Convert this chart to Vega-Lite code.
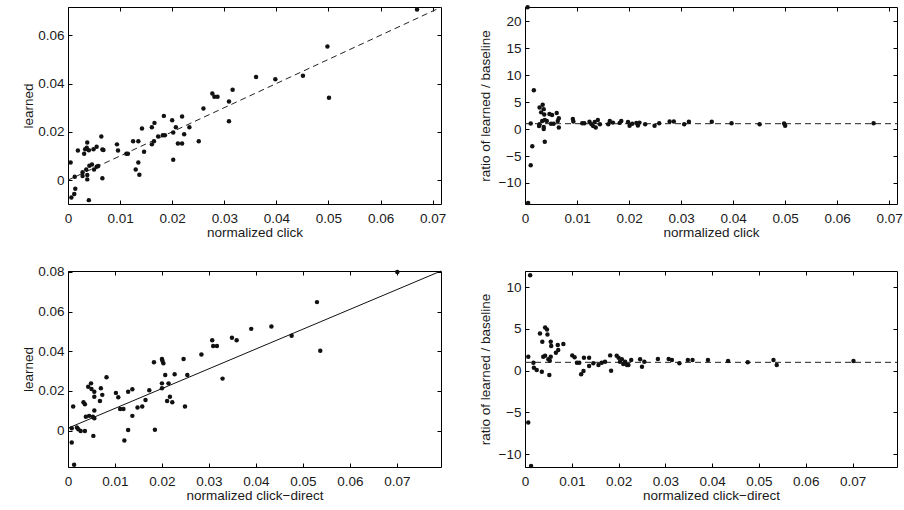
{
  "$schema": "https://vega.github.io/schema/vega-lite/v6.json",
  "padding": {"left": 20, "top": 4, "right": 0, "bottom": 0},
  "background": "white",
  "config": {
    "view": {"stroke": "#000", "strokeWidth": 1},
    "axis": {"domain": false, "grid": false, "tickSize": -4, "tickColor": "#000", "tickWidth": 1,
      "labelFont": "Liberation Sans", "labelFontSize": 13.5, "labelColor": "#1a1a1a",
      "titleFont": "Liberation Sans", "titleFontSize": 13.5, "titleFontWeight": "normal", "titleColor": "#1a1a1a",
      "labelFlush": false, "labelOverlap": false},
    "axisLeft": {"labelPadding": 8, "minExtent": 29, "maxExtent": 29, "titlePadding": 4},
    "axisBottom": {"labelPadding": 11, "minExtent": 19, "maxExtent": 19, "titlePadding": 2},
    "axisTop": {"labels": false, "minExtent": 0, "maxExtent": 0},
    "axisRight": {"labels": false, "minExtent": 0, "maxExtent": 0}
  },
  "datasets": {
    "p1": [
      {"x":0.0005,"y":0.0073},{"x":0.00065,"y":-0.0072},{"x":0.0012,"y":-0.0058},{"x":0.0014,"y":-0.0036},{"x":0.0013,"y":0.0014},{"x":0.0019,"y":0.0123},{"x":0.0028,"y":0.0033},{"x":0.0028,"y":0.0017},{"x":0.0031,"y":0.0109},{"x":0.0033,"y":0.0128},{"x":0.0037,"y":0.0156},{"x":0.0036,"y":0.0134},{"x":0.0035,"y":0.0044},{"x":0.0037,"y":0.0021},{"x":0.0037,"y":0.0003},{"x":0.004,"y":0.0124},{"x":0.004,"y":-0.0083},{"x":0.0041,"y":0.0059},{"x":0.0046,"y":0.0065},{"x":0.0049,"y":0.0128},{"x":0.005,"y":0.0044},{"x":0.0055,"y":0.0138},{"x":0.0055,"y":0.0055},{"x":0.0058,"y":0.0058},{"x":0.0064,"y":0.0181},{"x":0.0066,"y":0.0127},{"x":0.0068,"y":0.0125},{"x":0.0066,"y":0.0008},{"x":0.0094,"y":0.0148},{"x":0.0096,"y":0.0123},{"x":0.0112,"y":0.0109},{"x":0.0115,"y":0.0109},{"x":0.0125,"y":0.0161},{"x":0.0135,"y":0.0161},{"x":0.013,"y":0.0044},{"x":0.0135,"y":0.0073},{"x":0.0137,"y":0.0022},{"x":0.0142,"y":0.0214},{"x":0.0146,"y":0.0117},{"x":0.0161,"y":0.0219},{"x":0.0166,"y":0.0237},{"x":0.0161,"y":0.0148},{"x":0.0165,"y":0.0161},{"x":0.0173,"y":0.0181},{"x":0.0182,"y":0.0186},{"x":0.0186,"y":0.0186},{"x":0.0184,"y":0.0266},{"x":0.02,"y":0.0248},{"x":0.0202,"y":0.0197},{"x":0.0202,"y":0.0084},{"x":0.0207,"y":0.0219},{"x":0.0211,"y":0.0152},{"x":0.0219,"y":0.0152},{"x":0.0219,"y":0.0263},{"x":0.0223,"y":0.019},{"x":0.0233,"y":0.0219},{"x":0.0251,"y":0.0161},{"x":0.026,"y":0.0297},{"x":0.0277,"y":0.0359},{"x":0.0281,"y":0.0345},{"x":0.0287,"y":0.0345},{"x":0.0309,"y":0.0326},{"x":0.0309,"y":0.0244},{"x":0.0316,"y":0.0374},{"x":0.0361,"y":0.0427},{"x":0.0398,"y":0.0418},{"x":0.0451,"y":0.0432},{"x":0.0498,"y":0.0553},{"x":0.0501,"y":0.0341},{"x":0.067,"y":0.0707}
    ],
    "l1": [{"x":0,"y":0},{"x":0.0716,"y":0.0716}],
    "p2": [
      {"x":0.0005,"y":22.6},{"x":0.0011,"y":1.04},{"x":0.0017,"y":7.2},{"x":0.0014,"y":-3.2},{"x":0.0011,"y":-6.7},{"x":0.0006,"y":-13.7},{"x":0.0028,"y":4.0},{"x":0.0031,"y":3.1},{"x":0.0034,"y":4.5},{"x":0.0036,"y":3.7},{"x":0.0037,"y":2.7},{"x":0.0028,"y":0.9},{"x":0.0027,"y":0.55},{"x":0.0033,"y":1.5},{"x":0.0036,"y":0.4},{"x":0.0036,"y":0.0},{"x":0.0038,"y":1.7},{"x":0.0042,"y":1.5},{"x":0.0038,"y":-2.35},{"x":0.0047,"y":2.8},{"x":0.005,"y":1.0},{"x":0.0052,"y":2.6},{"x":0.0055,"y":1.0},{"x":0.0061,"y":3.0},{"x":0.0063,"y":1.5},{"x":0.0065,"y":2.0},{"x":0.0065,"y":0.3},{"x":0.0092,"y":1.85},{"x":0.0093,"y":1.4},{"x":0.011,"y":1.1},{"x":0.0114,"y":1.1},{"x":0.0124,"y":1.35},{"x":0.0128,"y":0.9},{"x":0.0131,"y":0.55},{"x":0.0134,"y":1.3},{"x":0.0136,"y":0.3},{"x":0.014,"y":1.7},{"x":0.0144,"y":0.9},{"x":0.016,"y":0.9},{"x":0.0163,"y":1.5},{"x":0.0169,"y":1.2},{"x":0.0182,"y":1.15},{"x":0.0185,"y":1.5},{"x":0.0198,"y":1.3},{"x":0.0201,"y":0.6},{"x":0.0206,"y":1.0},{"x":0.0214,"y":1.15},{"x":0.0217,"y":0.65},{"x":0.022,"y":1.2},{"x":0.0231,"y":0.9},{"x":0.0249,"y":0.6},{"x":0.0258,"y":1.1},{"x":0.0278,"y":1.4},{"x":0.0286,"y":1.4},{"x":0.0306,"y":0.9},{"x":0.0315,"y":1.35},{"x":0.0359,"y":1.35},{"x":0.0397,"y":1.1},{"x":0.0451,"y":0.9},{"x":0.0498,"y":1.05},{"x":0.05,"y":0.6},{"x":0.067,"y":1.1}
    ],
    "l2": [{"x":0,"y":1},{"x":0.0715,"y":1}],
    "p3": [
      {"x":0.0008,"y":0.0012},{"x":0.0008,"y":-0.006},{"x":0.0011,"y":0.0121},{"x":0.0013,"y":-0.0173},{"x":0.0019,"y":0.0015},{"x":0.0022,"y":0.0007},{"x":0.0027,"y":-0.0002},{"x":0.0033,"y":0.0143},{"x":0.0036,"y":0.0133},{"x":0.0038,"y":0.007},{"x":0.0036,"y":-0.0002},{"x":0.0043,"y":0.0221},{"x":0.0045,"y":0.0074},{"x":0.0049,"y":0.0238},{"x":0.005,"y":0.021},{"x":0.0053,"y":0.007},{"x":0.0054,"y":-0.0027},{"x":0.0056,"y":0.0196},{"x":0.0056,"y":0.0171},{"x":0.0056,"y":0.0101},{"x":0.0056,"y":0.0062},{"x":0.0068,"y":0.0149},{"x":0.007,"y":0.0213},{"x":0.0073,"y":0.018},{"x":0.0082,"y":0.0269},{"x":0.0102,"y":0.019},{"x":0.0107,"y":0.0168},{"x":0.0111,"y":0.0109},{"x":0.0118,"y":0.0109},{"x":0.012,"y":-0.005},{"x":0.0128,"y":0.0196},{"x":0.0128,"y":0.0003},{"x":0.0137,"y":0.0208},{"x":0.0137,"y":0.0074},{"x":0.0148,"y":0.0116},{"x":0.0158,"y":0.0121},{"x":0.0165,"y":0.0154},{"x":0.0173,"y":0.0203},{"x":0.0183,"y":0.0344},{"x":0.0185,"y":0.0004},{"x":0.02,"y":0.0361},{"x":0.0201,"y":0.0352},{"x":0.0203,"y":0.0339},{"x":0.02,"y":0.0238},{"x":0.02,"y":0.0213},{"x":0.0207,"y":0.028},{"x":0.0214,"y":0.0238},{"x":0.0211,"y":0.0149},{"x":0.0217,"y":0.0171},{"x":0.0222,"y":0.0143},{"x":0.0227,"y":0.0284},{"x":0.0246,"y":0.0361},{"x":0.0249,"y":0.0121},{"x":0.0254,"y":0.028},{"x":0.0284,"y":0.0384},{"x":0.0307,"y":0.0456},{"x":0.0309,"y":0.0426},{"x":0.0317,"y":0.0426},{"x":0.0329,"y":0.0262},{"x":0.0349,"y":0.0468},{"x":0.0359,"y":0.0456},{"x":0.039,"y":0.0513},{"x":0.0433,"y":0.0525},{"x":0.0476,"y":0.0478},{"x":0.053,"y":0.0648},{"x":0.0537,"y":0.0403},{"x":0.0701,"y":0.08}
    ],
    "l3": [{"x":0,"y":0.0012},{"x":0.0794,"y":0.0805}],
    "p4": [
      {"x":0.0011,"y":11.42},{"x":0.0007,"y":1.67},{"x":0.0007,"y":-6.2},{"x":0.0013,"y":-11.4},{"x":0.0018,"y":0.95},{"x":0.0019,"y":0.36},{"x":0.0025,"y":0.08},{"x":0.0032,"y":4.46},{"x":0.0036,"y":-0.12},{"x":0.0037,"y":3.46},{"x":0.0039,"y":1.67},{"x":0.0043,"y":5.18},{"x":0.0043,"y":1.79},{"x":0.0047,"y":4.94},{"x":0.0048,"y":4.34},{"x":0.005,"y":1.36},{"x":0.0052,"y":-0.51},{"x":0.0053,"y":1.19},{"x":0.0055,"y":1.67},{"x":0.0055,"y":3.46},{"x":0.0056,"y":2.95},{"x":0.0066,"y":2.15},{"x":0.007,"y":3.07},{"x":0.0071,"y":2.47},{"x":0.0082,"y":3.19},{"x":0.0101,"y":1.83},{"x":0.0106,"y":1.6},{"x":0.0111,"y":0.95},{"x":0.0116,"y":0.95},{"x":0.012,"y":-0.43},{"x":0.0125,"y":-0.04},{"x":0.0126,"y":1.55},{"x":0.0137,"y":1.55},{"x":0.0137,"y":0.56},{"x":0.0146,"y":0.88},{"x":0.0157,"y":0.68},{"x":0.0164,"y":0.95},{"x":0.0171,"y":1.07},{"x":0.0182,"y":1.83},{"x":0.0184,"y":0.0},{"x":0.0196,"y":1.79},{"x":0.02,"y":1.55},{"x":0.0203,"y":1.07},{"x":0.0207,"y":1.36},{"x":0.021,"y":0.8},{"x":0.0214,"y":1.07},{"x":0.0218,"y":0.68},{"x":0.0221,"y":0.68},{"x":0.0227,"y":1.28},{"x":0.0246,"y":1.36},{"x":0.025,"y":0.48},{"x":0.0255,"y":1.07},{"x":0.0284,"y":1.4},{"x":0.0307,"y":1.4},{"x":0.0314,"y":1.28},{"x":0.033,"y":0.88},{"x":0.0348,"y":1.28},{"x":0.0358,"y":1.28},{"x":0.0391,"y":1.28},{"x":0.0434,"y":1.16},{"x":0.0476,"y":1.0},{"x":0.0531,"y":1.28},{"x":0.0538,"y":0.68},{"x":0.0702,"y":1.16}
    ],
    "l4": [{"x":0,"y":1},{"x":0.0795,"y":1}]
  },
  "columns": 2,
  "spacing": {"row": 25, "column": 30},
  "concat": [
    {
      "width": 373, "height": 197,
      "layer": [
        {"data": {"name": "l1"}, "mark": {"type": "line", "strokeDash": [6, 4], "color": "#222", "strokeWidth": 1},
         "encoding": {
           "x": {"field": "x", "type": "quantitative", "scale": {"domain": [0, 0.0716], "nice": false, "zero": false}, "axis": {"orient": "top", "title": null, "values": [0,0.01,0.02,0.03,0.04,0.05,0.06,0.07]}},
           "y": {"field": "y", "type": "quantitative", "scale": {"domain": [-0.0099, 0.0717], "nice": false, "zero": false}, "axis": {"orient": "right", "title": null, "values": [0,0.02,0.04,0.06]}}
         }},
        {"data": {"name": "p1"}, "mark": {"type": "circle", "size": 20, "color": "#111", "opacity": 1},
         "encoding": {
           "x": {"field": "x", "type": "quantitative", "axis": {"orient": "bottom", "title": "normalized click", "values": [0,0.01,0.02,0.03,0.04,0.05,0.06,0.07], "format": ".2~f"}},
           "y": {"field": "y", "type": "quantitative", "axis": {"orient": "left", "title": "learned", "values": [0,0.02,0.04,0.06], "format": ".2~f"}}
         }}
      ],
      "resolve": {"axis": {"x": "independent", "y": "independent"}}
    },
    {
      "width": 372, "height": 197,
      "layer": [
        {"data": {"name": "l2"}, "mark": {"type": "line", "strokeDash": [6, 4], "color": "#222", "strokeWidth": 1},
         "encoding": {
           "x": {"field": "x", "type": "quantitative", "scale": {"domain": [0, 0.0715], "nice": false, "zero": false}, "axis": {"orient": "top", "title": null, "values": [0,0.01,0.02,0.03,0.04,0.05,0.06,0.07]}},
           "y": {"field": "y", "type": "quantitative", "scale": {"domain": [-13.9, 22.65], "nice": false, "zero": false}, "axis": {"orient": "right", "title": null, "values": [-10,-5,0,5,10,15,20]}}
         }},
        {"data": {"name": "p2"}, "mark": {"type": "circle", "size": 20, "color": "#111", "opacity": 1},
         "encoding": {
           "x": {"field": "x", "type": "quantitative", "axis": {"orient": "bottom", "title": "normalized click", "values": [0,0.01,0.02,0.03,0.04,0.05,0.06,0.07], "format": ".2~f"}},
           "y": {"field": "y", "type": "quantitative", "axis": {"orient": "left", "title": "ratio of learned / baseline", "values": [-10,-5,0,5,10,15,20], "format": "d"}}
         }}
      ],
      "resolve": {"axis": {"x": "independent", "y": "independent"}}
    },
    {
      "width": 373, "height": 196,
      "layer": [
        {"data": {"name": "l3"}, "mark": {"type": "line", "color": "#111", "strokeWidth": 1},
         "encoding": {
           "x": {"field": "x", "type": "quantitative", "scale": {"domain": [0, 0.0794], "nice": false, "zero": false}, "axis": {"orient": "top", "title": null, "values": [0,0.01,0.02,0.03,0.04,0.05,0.06,0.07]}},
           "y": {"field": "y", "type": "quantitative", "scale": {"domain": [-0.0184, 0.0805], "nice": false, "zero": false}, "axis": {"orient": "right", "title": null, "values": [0,0.02,0.04,0.06,0.08]}}
         }},
        {"data": {"name": "p3"}, "mark": {"type": "circle", "size": 20, "color": "#111", "opacity": 1},
         "encoding": {
           "x": {"field": "x", "type": "quantitative", "axis": {"orient": "bottom", "title": "normalized click−direct", "values": [0,0.01,0.02,0.03,0.04,0.05,0.06,0.07], "format": ".2~f"}},
           "y": {"field": "y", "type": "quantitative", "axis": {"orient": "left", "title": "learned", "values": [0,0.02,0.04,0.06,0.08], "format": ".2~f"}}
         }}
      ],
      "resolve": {"axis": {"x": "independent", "y": "independent"}}
    },
    {
      "width": 372, "height": 196,
      "layer": [
        {"data": {"name": "l4"}, "mark": {"type": "line", "strokeDash": [6, 4], "color": "#222", "strokeWidth": 1},
         "encoding": {
           "x": {"field": "x", "type": "quantitative", "scale": {"domain": [0, 0.0795], "nice": false, "zero": false}, "axis": {"orient": "top", "title": null, "values": [0,0.01,0.02,0.03,0.04,0.05,0.06,0.07]}},
           "y": {"field": "y", "type": "quantitative", "scale": {"domain": [-11.53, 11.93], "nice": false, "zero": false}, "axis": {"orient": "right", "title": null, "values": [-10,-5,0,5,10]}}
         }},
        {"data": {"name": "p4"}, "mark": {"type": "circle", "size": 20, "color": "#111", "opacity": 1},
         "encoding": {
           "x": {"field": "x", "type": "quantitative", "axis": {"orient": "bottom", "title": "normalized click−direct", "values": [0,0.01,0.02,0.03,0.04,0.05,0.06,0.07], "format": ".2~f"}},
           "y": {"field": "y", "type": "quantitative", "axis": {"orient": "left", "title": "ratio of learned / baseline", "values": [-10,-5,0,5,10], "format": "d"}}
         }}
      ],
      "resolve": {"axis": {"x": "independent", "y": "independent"}}
    }
  ]
}
